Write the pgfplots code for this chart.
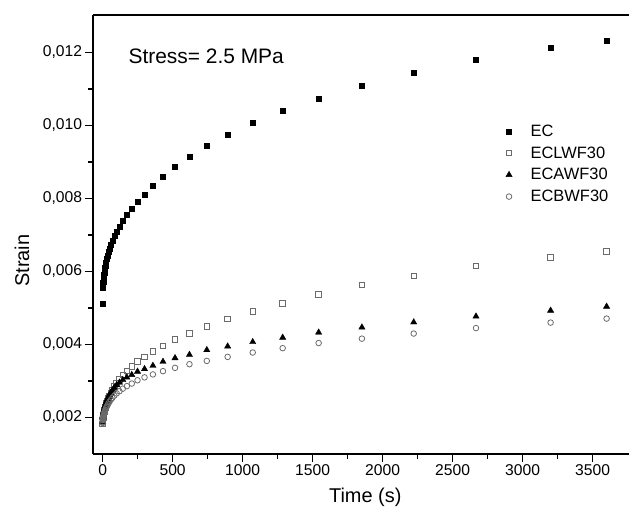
\documentclass[border=0pt]{standalone}
\usepackage{pgfplots}
\usepackage{pgfplotstable}
\pgfplotsset{compat=1.18}
\usepackage{fontspec}
\setmainfont{Liberation Sans}

% creep strain under constant stress (2.5 MPa)
% columns: time (s), EC, ECLWF30, ECAWF30, ECBWF30
\pgfplotstableread{
t      ec       lwf      awf      bwf
0      0.00513  0.00182  0.00188  0.00185
1.0    0.00555  0.00190  0.00200  0.00193
1.3    0.00557  0.00191  0.00201  0.00194
1.5    0.00558  0.00192  0.00202  0.00195
1.8    0.00560  0.00193  0.00203  0.00196
2.2    0.00562  0.00194  0.00204  0.00197
2.6    0.00564  0.00195  0.00205  0.00198
3.1    0.00567  0.00197  0.00206  0.00199
3.8    0.00570  0.00199  0.00208  0.00200
4.5    0.00573  0.00201  0.00210  0.00202
5.4    0.00577  0.00203  0.00212  0.00203
6.5    0.00581  0.00205  0.00214  0.00205
7.8    0.00586  0.00208  0.00217  0.00207
9.4    0.00591  0.00211  0.00220  0.00210
11.2   0.00597  0.00215  0.00223  0.00212
13.5   0.00603  0.00219  0.00227  0.00215
16.2   0.00610  0.00223  0.00231  0.00218
19.4   0.00617  0.00228  0.00235  0.00221
23.3   0.00625  0.00233  0.00240  0.00225
28     0.00634  0.00239  0.00245  0.00229
33.6   0.00643  0.00245  0.00250  0.00233
40.3   0.00653  0.00252  0.00256  0.00238
48.3   0.00663  0.00259  0.00262  0.00243
58     0.00674  0.00267  0.00268  0.00248
69.6   0.00685  0.00276  0.00275  0.00254
83.5   0.00697  0.00285  0.00282  0.00260
100    0.00710  0.00295  0.00289  0.00266
120    0.00724  0.00305  0.00296  0.00272
144    0.00739  0.00317  0.00303  0.00279
173    0.00755  0.00328  0.00310  0.00286
208    0.00772  0.00340  0.00317  0.00293
249    0.00790  0.00353  0.00326  0.00302
299    0.00811  0.00366  0.00333  0.00310
359    0.00835  0.00381  0.00342  0.00318
431    0.00860  0.00396  0.00353  0.00327
517    0.00887  0.00414  0.00363  0.00336
620    0.00915  0.00430  0.00372  0.00346
744    0.00944  0.00450  0.00385  0.00355
893    0.00975  0.00470  0.00395  0.00366
1072   0.01007  0.00491  0.00407  0.00378
1286   0.01040  0.00513  0.00419  0.00390
1543   0.01074  0.00537  0.00433  0.00404
1852   0.01109  0.00563  0.00447  0.00416
2222   0.01145  0.00588  0.00461  0.00430
2667   0.01180  0.00615  0.00477  0.00445
3200   0.01213  0.00638  0.00493  0.00460
3600   0.01233  0.00655  0.00504  0.00471
}\creep

\definecolor{markgray}{gray}{0.42}

\begin{document}
\begin{tikzpicture}
\begin{axis}[
  name=ax,
  scale only axis,
  width=536bp, height=439bp,
  xmin=-69, xmax=3760,
  ymin=0.001, ymax=0.013027,
  axis x line*=box,
  axis y line*=left,
  axis line style={line width=1.2bp, black},
  xtick={0,500,...,3500},
  ytick={0.002,0.004,...,0.0121},
  minor x tick num=1,
  minor y tick num=1,
  xtick pos=bottom, ytick pos=left,
  tick align=outside,
  major tick length=7.5bp,
  minor tick length=4.5bp,
  every tick/.style={black, line width=1.1bp},
  scaled y ticks=false,
  /pgf/number format/assume math mode=true,
  xticklabel style={/pgf/number format/1000 sep={}, font=\fontsize{15.7}{18}\selectfont},
  yticklabel style={/pgf/number format/.cd, fixed, fixed zerofill, precision=3, use comma,
                    /tikz/.cd, font=\fontsize{15.7}{18}\selectfont},
  xlabel={Time (s)},
  ylabel={Strain},
  xlabel style={font=\fontsize{20}{24}\selectfont, at={(axis cs:1876,0.001)}, anchor=center, yshift=-43.6bp},
  ylabel style={font=\fontsize{20}{24}\selectfont, at={([xshift=-71bp]axis cs:-69,0.0063)}, anchor=center},
  legend style={at={(axis cs:2858,0.01012)}, anchor=north west, draw=none, fill=none,
                font=\fontsize{16.5}{19}\selectfont, row sep=5.8bp,
                nodes={inner sep=1.5bp},
                /tikz/every odd column/.style={column sep=17bp}},
  legend cell align=left,
  legend image code/.code={\draw[#1] plot coordinates {(0bp,0bp)};},
]
\addplot[only marks, mark=square*, mark size=2.5bp, black] table[x=t, y=ec] {\creep};
\addlegendentry{EC}
\addplot[only marks, mark=square, mark size=2.8bp, markgray, mark options={line width=0.8bp}] table[x=t, y=lwf] {\creep};
\addlegendentry{ECLWF30}
\addplot[only marks, mark=triangle*, mark size=3.6bp, black] table[x=t, y=awf] {\creep};
\addlegendentry{ECAWF30}
\addplot[only marks, mark=o, mark size=2.8bp, markgray, mark options={line width=0.8bp}] table[x=t, y=bwf] {\creep};
\addlegendentry{ECBWF30}

\node[anchor=west, font=\fontsize{21}{25}\selectfont, inner sep=0pt] at (axis cs:184,0.0119) {Stress= 2.5 MPa};
\end{axis}
\pgfresetboundingbox
\path[use as bounding box] ([shift={(-93bp,-63bp)}]ax.south west) rectangle ([shift={(536bp,454bp)}]ax.south west);
\end{tikzpicture}
\end{document}
